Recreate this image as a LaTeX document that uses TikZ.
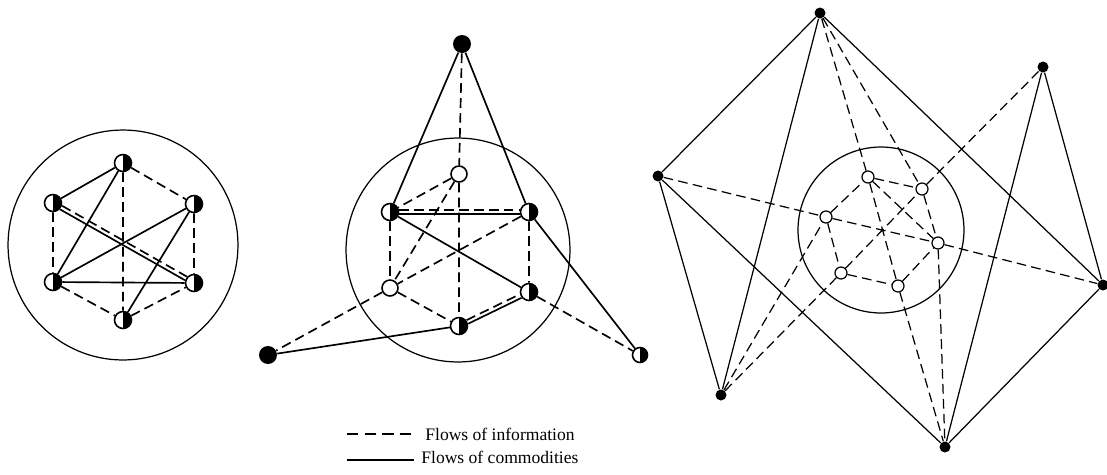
\documentclass[tikz,border=0pt]{standalone}
\usepackage{fontspec}
\setmainfont{Liberation Serif}
\usepackage{tikz}
\usetikzlibrary{calc}

\begin{document}
\begin{tikzpicture}[
    x=0.02cm, y=-0.02cm,
    info/.style={dash pattern=on 5.5pt off 3pt, line width=0.95pt},
    goods/.style={line width=0.95pt},
    thininfo/.style={dash pattern=on 5.5pt off 3pt, line width=0.7pt},
    thingoods/.style={line width=0.7pt},
    zone/.style={draw, line width=0.7pt},
    halfnode/.style={circle, draw, line width=0.9pt, fill=white, inner sep=0pt, minimum size=0.34cm, path picture={\fill[black] (path picture bounding box.north) rectangle (path picture bounding box.south east);}},
    fullnode/.style={circle, fill=black, inner sep=0pt, minimum size=0.36cm},
    opennode/.style={circle, draw, line width=0.9pt, fill=white, inner sep=0pt, minimum size=0.32cm},
    dotnode/.style={circle, fill=black, inner sep=0pt, minimum size=0.22cm},
    ringnode/.style={circle, draw, line width=0.7pt, fill=white, inner sep=0pt, minimum size=0.24cm},
    legend/.style={inner sep=0pt, font=\fontsize{10}{12}\selectfont}
]
\useasboundingbox (0,0) rectangle (1107,474);

% first network: six mixed places
\draw[zone] (123,245) circle (2.3cm);
\node (p1t) [halfnode] at (123,163) {};
\node (p1ul) [halfnode] at (53,203) {};
\node (p1ur) [halfnode] at (194,204) {};
\node (p1ll) [halfnode] at (53,282) {};
\node (p1lr) [halfnode] at (194,283) {};
\node (p1b) [halfnode] at (123,320) {};
\draw[goods] (p1t) -- (p1ul) (p1t) -- (p1ll) (p1ur) -- (p1ll) (p1ur) -- (p1b) (p1ll) -- (p1lr);
\draw[info] (p1t) -- (p1ur) (p1ur) -- (p1lr) (p1t) -- (p1b) (p1ul) -- (p1ll) (p1ll) -- (p1b) (p1b) -- (p1lr);
\draw[info, transform canvas={shift={(0.6pt,1pt)}}] (p1ul) -- (p1lr);
\draw[goods, transform canvas={shift={(-0.6pt,-1pt)}}] (p1ul) -- (p1lr);

% second network
\draw[zone] (458,250) circle (2.24cm);
\node (p2top) [fullnode] at (462,44) {};
\node (p2in) [opennode] at (459,174) {};
\node (p2ul) [halfnode] at (390,212) {};
\node (p2ur) [halfnode] at (529,212) {};
\node (p2ll) [opennode] at (390,288) {};
\node (p2lr) [halfnode] at (529,292) {};
\node (p2b) [halfnode] at (459,326) {};
\node (p2bl) [fullnode] at (268,355) {};
\node (p2br) [halfnode, minimum size=0.3cm] at (640,355) {};
\draw[goods] (p2top) -- (p2ul) (p2top) -- (p2ur) (p2ul) -- (p2lr) (p2b) -- (p2bl) (p2ur) -- (p2br);
\draw[info] (p2top) -- (p2in) (p2in) -- (p2b) (p2in) -- (p2ul) (p2in) -- (p2ll) (p2ul) -- (p2ll)
    (p2ur) -- (p2lr) (p2ur) -- (p2ll) (p2ll) -- (p2b) (p2ll) -- (p2bl) (p2lr) -- (p2br);
\draw[info, transform canvas={shift={(0pt,1.1pt)}}] (p2ul) -- (p2ur);
\draw[goods, transform canvas={shift={(0pt,-1.1pt)}}] (p2ul) -- (p2ur);
\draw[info, transform canvas={shift={(-0.5pt,1pt)}}] (p2b) -- (p2lr);
\draw[goods, transform canvas={shift={(0.5pt,-1pt)}}] (p2b) -- (p2lr);

% third network
\draw[zone] (881,230) circle (1.66cm);
\node (p3top) [dotnode] at (820,13) {};
\node (p3rtop) [dotnode] at (1043,67) {};
\node (p3left) [dotnode] at (658,176) {};
\node (p3right) [dotnode] at (1103,285) {};
\node (p3bleft) [dotnode] at (721,395) {};
\node (p3bot) [dotnode] at (945,447) {};
\node (p3a) [ringnode] at (868,177) {};
\node (p3b) [ringnode] at (922,189) {};
\node (p3c) [ringnode] at (826,217) {};
\node (p3d) [ringnode] at (938,243) {};
\node (p3e) [ringnode] at (841,273) {};
\node (p3f) [ringnode] at (898,286) {};
\draw[thingoods] (p3top) -- (p3left) (p3top) -- (p3bleft) (p3top) -- (p3right) (p3left) -- (p3bleft)
    (p3left) -- (p3bot) (p3rtop) -- (p3bot) (p3rtop) -- (p3right) (p3right) -- (p3bot);
\draw[thininfo] (p3top) -- (p3a) (p3a) -- (p3f) (p3f) -- (p3bot) (p3top) -- (p3b) (p3b) -- (p3d) (p3d) -- (p3bot)
    (p3left) -- (p3c) (p3c) -- (p3d) (p3d) -- (p3right) (p3bleft) -- (p3e) (p3e) -- (p3b) (p3b) -- (p3rtop)
    (p3bleft) -- (p3c) (p3c) -- (p3a) (p3a) -- (p3b) (p3a) -- (p3d) (p3e) -- (p3f) (p3f) -- (p3d) (p3c) -- (p3e);

% key
\coordinate (infoL) at (347,434);
\coordinate (infoR) at (414,434);
\draw[info, dash pattern=on 6.5pt off 3.5pt] (infoL) -- (infoR);
\node (infotext) [legend, anchor=base west] at (425,440) {Flows of information};
\coordinate (goodsL) at (347,460);
\coordinate (goodsR) at (414,460);
\draw[goods] (goodsL) -- (goodsR);
\node (goodstext) [legend, anchor=base west] at (421,463) {Flows of commodities};

\end{tikzpicture}
\end{document}
